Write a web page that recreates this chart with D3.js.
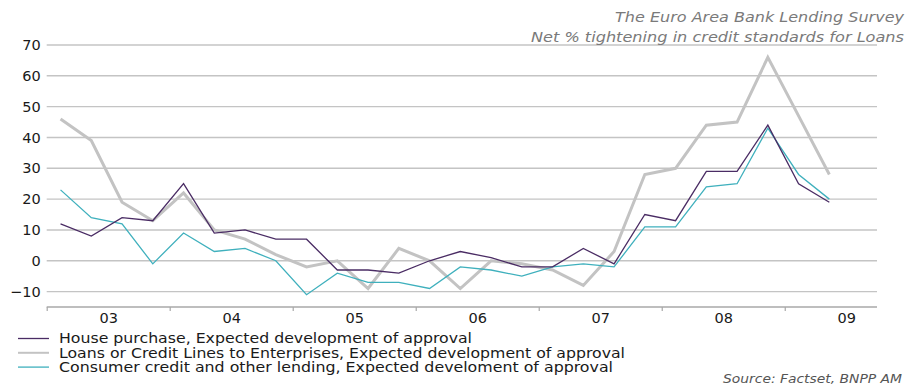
<!DOCTYPE html>
<html>
<head>
<meta charset="utf-8">
<script src="https://cdn.jsdelivr.net/npm/d3@7"></script>
<style>
  html, body { margin: 0; padding: 0; background: #fff; }
  svg { display: block; font-family: "DejaVu Sans", Verdana, sans-serif; }
</style>
</head>
<body>
<svg id="chart" width="908" height="385"></svg>
<script>
// Survey quarters, 2003 Q1 to 2009 Q2
const quarters = [
  "2003Q1","2003Q2","2003Q3","2003Q4",
  "2004Q1","2004Q2","2004Q3","2004Q4",
  "2005Q1","2005Q2","2005Q3","2005Q4",
  "2006Q1","2006Q2","2006Q3","2006Q4",
  "2007Q1","2007Q2","2007Q3","2007Q4",
  "2008Q1","2008Q2","2008Q3","2008Q4",
  "2009Q1","2009Q2"
];

// Net % of banks tightening credit standards
const housePurchase = [12, 8, 14, 13, 25, 9, 10, 7, 7, -3, -3, -4, 0, 3, 1, -2, -2, 4, -1, 15, 13, 29, 29, 44, 25, 19];
const enterprises   = [46, 39, 19, 13, 22, 10, 7, 2, -2, 0, -9, 4, 0, -9, 0, -1, -3, -8, 3, 28, 30, 44, 45, 66, 47, 28];
const consumer      = [23, 14, 12, -1, 9, 3, 4, 0, -11, -4, -7, -7, -9, -2, -3, -5, -2, -1, -2, 11, 11, 24, 25, 43, 28, 20];

const yearLabels = ["03", "04", "05", "06", "07", "08", "09"];
const yTicks = [-10, 0, 10, 20, 30, 40, 50, 60, 70];

const seriesNames = [
  "House purchase, Expected development of approval",
  "Loans or Credit Lines to Enterprises, Expected development of approval",
  "Consumer credit and other lending, Expected develoment of approval"
];

const series = [
  { name: seriesNames[0], values: housePurchase, color: "#4a2c64", width: 1.3 },
  { name: seriesNames[1], values: enterprises,   color: "#c3c3c3", width: 3 },
  { name: seriesNames[2], values: consumer,      color: "#3fb0bd", width: 1.3 }
];

// rendered widths of the legend entries (px)
const legendTextWidths = [413, 566, 554];

const svg = d3.select("#chart");

// x runs on a quarter index; the axis covers 2003 Q1 to 2009 Q3
const x = d3.scaleLinear().domain([0, 27]).range([46.7, 877]);
const y = d3.scaleLinear().domain([-15, 70]).range([307, 45]);
const qIndex = q => (+q.slice(0, 4) - 2003) * 4 + (+q.slice(5) - 1);
const pointOffset = 0.45;

// horizontal gridlines
svg.append("g")
  .selectAll("line")
  .data(yTicks)
  .join("line")
  .attr("x1", x(0)).attr("x2", x(27))
  .attr("y1", d => y(d)).attr("y2", d => y(d))
  .attr("stroke", "#c4c4c4")
  .attr("stroke-width", 1.4);

// y axis labels
const yAxis = svg.append("g")
  .attr("transform", `translate(${x(0) - 5},0)`)
  .call(d3.axisLeft(y).tickValues(yTicks).tickSize(0).tickPadding(1));
yAxis.select(".domain").remove();
yAxis.selectAll("text")
  .attr("font-family", "DejaVu Sans, sans-serif")
  .attr("font-size", 14.5)
  .attr("fill", "#1a1a1a");

// x axis: year boundary ticks
const yearStarts = d3.range(0, 25, 4);
const xAxis = svg.append("g")
  .attr("transform", `translate(0,${y(-15)})`)
  .call(d3.axisBottom(x).tickValues(yearStarts).tickSize(4).tickFormat(""));
xAxis.select(".domain")
  .attr("d", `M${x(0)},0H${x(27)}`)
  .attr("stroke", "#a8a8a8").attr("stroke-width", 1.4);
xAxis.selectAll(".tick line").attr("stroke", "#a8a8a8").attr("stroke-width", 1.2);

// year labels centred on each year
const yearMid = yearLabels.map((_, i) => i * 4 + 2);
const xLabels = svg.append("g")
  .attr("transform", `translate(0,${y(-15)})`)
  .call(d3.axisBottom(x).tickValues(yearMid).tickSize(0).tickPadding(6)
    .tickFormat((d, i) => yearLabels[i]));
xLabels.select(".domain").remove();
xLabels.selectAll("text")
  .attr("font-family", "DejaVu Sans, sans-serif")
  .attr("font-size", 14.5)
  .attr("fill", "#1a1a1a");

// series lines; the enterprise line sits underneath the thin ones
const line = d3.line()
  .x((d, i) => x(qIndex(quarters[i]) + pointOffset))
  .y(d => y(d));

const drawOrder = [series[1], series[2], series[0]];
svg.append("g")
  .selectAll("path")
  .data(drawOrder)
  .join("path")
  .attr("d", d => line(d.values))
  .attr("fill", "none")
  .attr("stroke", d => d.color)
  .attr("stroke-width", d => d.width)
  .attr("stroke-linejoin", "miter");

// legend
const legend = svg.append("g");
const legendRows = legend.selectAll("g")
  .data(series)
  .join("g")
  .attr("transform", (d, i) => `translate(0,${338.5 + i * 14.3})`);
legendRows.append("line")
  .attr("x1", 18).attr("x2", 49)
  .attr("stroke", d => d.color)
  .attr("stroke-width", d => d.width === 3 ? 2 : 1.3);
legendRows.append("text")
  .attr("x", 59).attr("dy", "0.35em")
  .attr("font-size", 14)
  .attr("textLength", (d, i) => legendTextWidths[i])
  .attr("lengthAdjust", "spacingAndGlyphs")
  .attr("fill", "#1a1a1a")
  .text(d => d.name);

// title, top right
const title = svg.append("g")
  .attr("font-style", "italic")
  .attr("fill", "#7a7a7a")
  .attr("text-anchor", "end");
title.append("text").attr("x", 904).attr("y", 22).attr("font-size", 14.5)
  .attr("textLength", 289).attr("lengthAdjust", "spacingAndGlyphs")
  .text("The Euro Area Bank Lending Survey");
title.append("text").attr("x", 904).attr("y", 42).attr("font-size", 14.5)
  .attr("textLength", 373).attr("lengthAdjust", "spacingAndGlyphs")
  .text("Net % tightening in credit standards for Loans");

// source note
svg.append("text")
  .attr("x", 902).attr("y", 383)
  .attr("text-anchor", "end")
  .attr("font-style", "italic")
  .attr("font-size", 12)
  .attr("textLength", 179).attr("lengthAdjust", "spacingAndGlyphs")
  .attr("fill", "#555")
  .text("Source: Factset, BNPP AM");
</script>
</body>
</html>
